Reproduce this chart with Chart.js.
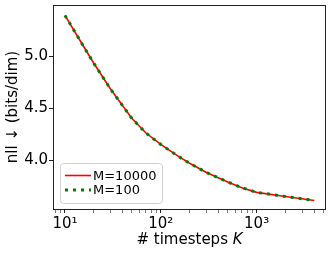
<!DOCTYPE html>
<html>
<head>
<meta charset="utf-8">
<script src="https://cdn.jsdelivr.net/npm/chart.js@4"></script>
<style>
html, body { margin: 0; padding: 0; background: #fff; }
</style>
</head>
<body>
<canvas id="chart" width="332" height="255"></canvas>
<script>
// data
const timesteps = [10, 15, 20, 30, 50, 70, 100, 150, 200, 300, 500, 700, 1000, 2000, 4000];
const nllM10000 = [5.39, 5.12, 4.93, 4.68, 4.40, 4.26, 4.15, 4.04, 3.97, 3.88, 3.79, 3.735, 3.69, 3.65, 3.612];
const nllM100   = [5.39, 5.12, 4.93, 4.68, 4.40, 4.26, 4.15, 4.04, 3.97, 3.88, 3.79, 3.735, 3.69, 3.65, 3.612];
const seriesLabels = ["M=10000", "M=100"];
const xTickValues = [8, 9, 10, 20, 30, 40, 50, 60, 70, 80, 90, 100, 200, 300, 400, 500, 600, 700, 800, 900, 1000, 2000, 3000, 4000, 5000];
const xTickLabels = { 10: "10¹", 100: "10²", 1000: "10³" };
const yTickValues = [4.0, 4.5, 5.0];

const FONT = "'DejaVu Sans', sans-serif";

// box round the plot, like matplotlib spines
const framePlugin = {
    id: "frame",
    afterDraw(chart) {
        const a = chart.chartArea, ctx = chart.ctx;
        ctx.save();
        ctx.strokeStyle = "#222";
        ctx.lineWidth = 1;
        ctx.strokeRect(Math.round(a.left) + 0.5, Math.round(a.top) + 0.5,
                       Math.round(a.right - a.left) - 1, Math.round(a.bottom - a.top));
        ctx.restore();
    }
};

// x title with italic K
const xTitlePlugin = {
    id: "xTitle",
    afterDraw(chart) {
        const a = chart.chartArea, ctx = chart.ctx;
        const part1 = "# timesteps ", part2 = "K";
        ctx.save();
        ctx.fillStyle = "#000";
        ctx.textBaseline = "middle";
        ctx.font = "15px " + FONT;
        const w1 = ctx.measureText(part1).width;
        ctx.font = "italic 15px " + FONT;
        const w2 = ctx.measureText(part2).width;
        const x0 = (a.left + a.right) / 2 - (w1 + w2) / 2;
        const y = 240;
        ctx.font = "15px " + FONT;
        ctx.fillText(part1, x0, y);
        ctx.font = "italic 15px " + FONT;
        ctx.fillText(part2, x0 + w1, y);
        ctx.restore();
    }
};

// legend inside the plot, lower left
const innerLegend = {
    id: "innerLegend",
    afterDraw(chart) {
        const a = chart.chartArea, ctx = chart.ctx;
        const bx = a.left + 7, by = a.bottom - 46, bw = 102, bh = 40;
        ctx.save();
        ctx.beginPath();
        ctx.roundRect(bx + 0.5, by + 0.5, bw, bh, 3);
        ctx.fillStyle = "rgba(255,255,255,0.8)";
        ctx.fill();
        ctx.strokeStyle = "#d0d0d0";
        ctx.lineWidth = 1;
        ctx.stroke();
        ctx.font = "13px " + FONT;
        ctx.textBaseline = "middle";
        chart.data.datasets.forEach((ds, i) => {
            const y = by + 12.5 + i * 14.5;
            ctx.beginPath();
            ctx.setLineDash(ds.borderDash || []);
            ctx.lineCap = "butt";
            ctx.strokeStyle = ds.borderColor;
            ctx.lineWidth = ds.borderWidth;
            ctx.moveTo(bx + 5, y);
            ctx.lineTo(bx + 31, y);
            ctx.stroke();
            ctx.setLineDash([]);
            ctx.fillStyle = "#000";
            ctx.fillText(ds.label, bx + 33, y + 1);
        });
        ctx.restore();
    }
};

new Chart(document.getElementById("chart"), {
    type: "line",
    data: {
        datasets: [{
            label: seriesLabels[0],
            data: timesteps.map((k, i) => ({ x: k, y: nllM10000[i] })),
            borderColor: "#ff0000",
            borderWidth: 1.6,
            pointRadius: 0,
            tension: 0,
            order: 1
        }, {
            label: seriesLabels[1],
            data: timesteps.map((k, i) => ({ x: k, y: nllM100[i] })),
            borderColor: "#008000",
            borderWidth: 3,
            borderDash: [3, 5],
            borderCapStyle: "butt",
            pointRadius: 0,
            tension: 0,
            order: 0
        }]
    },
    options: {
        responsive: false,
        animation: false,
        devicePixelRatio: 1,
        layout: { padding: { top: 5, right: 6, left: 0, bottom: 0 } },
        plugins: { legend: { display: false }, tooltip: { enabled: false } },
        scales: {
            x: {
                type: "logarithmic",
                min: 7.5,
                max: 5300,
                afterBuildTicks: (scale) => {
                    scale.ticks = xTickValues.map(v => ({ value: v, major: !!xTickLabels[v] }));
                },
                afterFit: (scale) => {
                    scale.height = 46;
                    scale.paddingLeft = 0;
                    scale.paddingRight = 0;
                },
                border: { display: false },
                grid: {
                    drawOnChartArea: false,
                    drawTicks: true,
                    tickLength: 4,
                    color: "#222",
                    lineWidth: (ctx) => (ctx.tick && xTickLabels[ctx.tick.value] ? 1 : 0.6)
                },
                ticks: {
                    autoSkip: false,
                    maxRotation: 0,
                    padding: 2,
                    color: "#000",
                    font: { family: FONT, size: 15 },
                    callback: (v) => xTickLabels[v] || ""
                }
            },
            y: {
                min: 3.53,
                max: 5.49,
                afterBuildTicks: (scale) => {
                    scale.ticks = yTickValues.map(v => ({ value: v }));
                },
                afterFit: (scale) => {
                    scale.width = 53;
                    scale.paddingTop = 0;
                    scale.paddingBottom = 0;
                },
                border: { display: false },
                grid: {
                    drawOnChartArea: false,
                    drawTicks: true,
                    tickLength: 4,
                    color: "#222"
                },
                ticks: {
                    padding: 1,
                    color: "#000",
                    font: { family: FONT, size: 15 },
                    callback: (v) => v.toFixed(1)
                },
                title: {
                    display: true,
                    text: "nll ↓ (bits/dim)",
                    color: "#000",
                    font: { family: FONT, size: 15 },
                    padding: { top: 4, bottom: 0 }
                }
            }
        }
    },
    plugins: [framePlugin, xTitlePlugin, innerLegend]
});
</script>
</body>
</html>
